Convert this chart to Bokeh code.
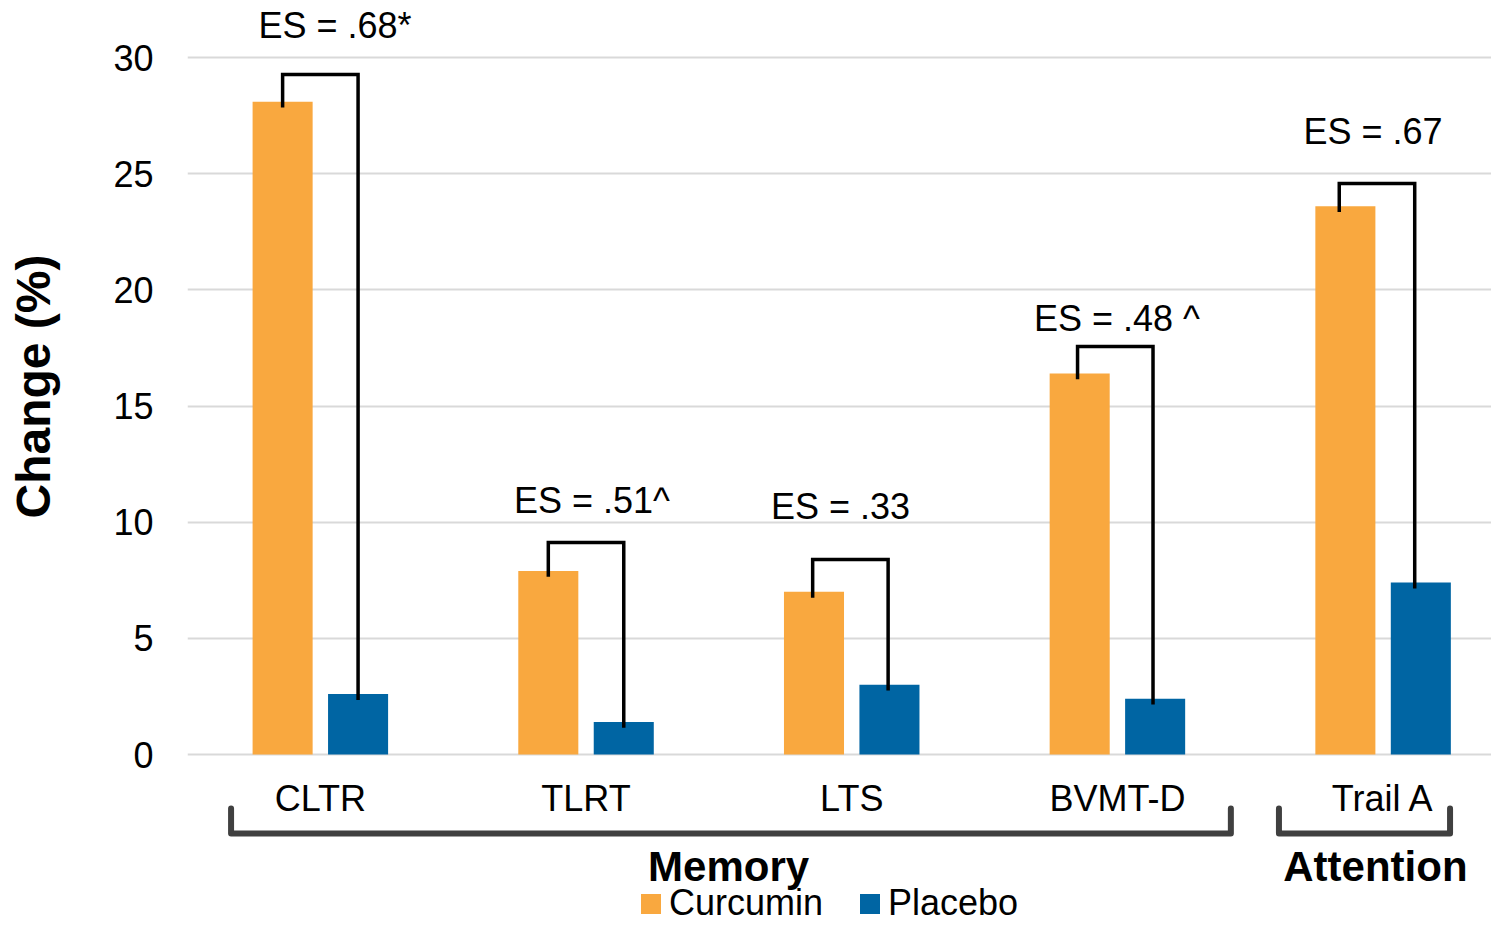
import math
from bokeh.plotting import figure
from bokeh.models import Range1d, FixedTicker, ColumnDataSource, Label
from bokeh.core.properties import value
from bokeh.embed import file_html
from bokeh.resources import INLINE

# ---------------- data ----------------
categories = ["CLTR", "TLRT", "LTS", "BVMT-D", "Trail A"]
curcumin = [28.1, 7.9, 7.0, 16.4, 23.6]
placebo = [2.6, 1.4, 3.0, 2.4, 7.4]
es_labels = ["ES = .68*", "ES = .51^", "ES = .33", "ES = .48 ^", "ES = .67"]
groups = ["Memory", "Attention"]
group_first = [0, 4]
group_last = [3, 4]
y_ticks = [0, 5, 10, 15, 20, 25, 30]

# ---------------- layout constants ----------------
bracket_top = [29.27, 9.13, 8.39, 17.56, 24.58]
bracket_dx = [0.0, 0.0, -0.005, -0.008, -0.023]
es_label_y = [31.38, 10.95, 10.67, 18.77, 26.82]
es_label_dx = [0.055, 0.022, -0.042, -0.002, -0.038]
group_pad_left = [0.336, 0.392]
group_pad_right = [0.427, 0.252]
group_label_dx = [-0.009, 0.041]

ORANGE = "#F9A83F"
BLUE = "#0065A3"
FONT = "Liberation Sans"
OFF = 0.142
BAR_W = 0.226

n = len(categories)
xc = [i + 0.5 for i in range(n)]

p = figure(width=1491, height=924, output_backend="svg", toolbar_location=None,
           x_range=Range1d(0, 4.908), y_range=Range1d(-7.317, 32.454),
           x_axis_location=None, min_border=0, min_border_left=187,
           min_border_right=0, min_border_top=0, min_border_bottom=0)
p.outline_line_color = None
p.background_fill_color = "white"
p.border_fill_color = "white"
p.xgrid.visible = False

yax = p.yaxis[0]
yax.ticker = FixedTicker(ticks=y_ticks)
yax.axis_line_color = None
yax.major_tick_line_color = None
yax.minor_tick_line_color = None
yax.major_label_text_font = FONT
yax.major_label_text_font_size = "36px"
yax.major_label_text_color = "black"
yax.major_label_standoff = 28

p.ygrid.ticker = FixedTicker(ticks=y_ticks)
p.ygrid.grid_line_color = "#D9D9D9"
p.ygrid.grid_line_width = 2

# y axis title in the left panel, centred on the 0-30 value area
ytitle = Label(x=-24, y=538, x_units="screen", y_units="screen",
               text="Change (%)", angle=math.pi / 2,
               text_font=FONT, text_font_size="48px", text_font_style="bold",
               text_align="center", text_baseline="middle", text_color="black")
p.add_layout(ytitle, "left")

src = ColumnDataSource(dict(
    xcur=[x - OFF for x in xc], xpla=[x + OFF for x in xc],
    cur=curcumin, pla=placebo))

p.vbar(x="xcur", top="cur", bottom=0, width=BAR_W, source=src,
       fill_color=ORANGE, line_color=None, legend_label="Curcumin")
p.vbar(x="xpla", top="pla", bottom=0, width=BAR_W, source=src,
       fill_color=BLUE, line_color=None, legend_label="Placebo")

# ES brackets
bxs, bys = [], []
for i in range(n):
    a = xc[i] - OFF + bracket_dx[i]
    b = xc[i] + OFF + bracket_dx[i]
    bxs.append([a, a, b, b])
    bys.append([curcumin[i] - 0.25, bracket_top[i], bracket_top[i], placebo[i] - 0.25])
p.multi_line(xs=bxs, ys=bys, line_color="black", line_width=3.5, line_join="miter")

p.text(x=[xc[i] + es_label_dx[i] for i in range(n)], y=es_label_y, text=es_labels,
       text_font=value(FONT), text_font_size="36px", text_align="center",
       text_baseline="middle", text_color="black")

# category labels
p.text(x=xc, y=[-1.89] * n, text=categories, text_font=value(FONT),
       text_font_size="36px", text_align="center", text_baseline="middle",
       text_color="black")

# group brackets
gxs, gys, gx_mid = [], [], []
for g in range(len(groups)):
    x0 = xc[group_first[g]] - group_pad_left[g]
    x1 = xc[group_last[g]] + group_pad_right[g]
    gxs.append([x0, x0, x1, x1])
    gys.append([-2.32, -3.40, -3.40, -2.32])
    gx_mid.append((x0 + x1) / 2 + group_label_dx[g])
p.multi_line(xs=gxs, ys=gys, line_color="#404040", line_width=6,
             line_join="round", line_cap="round")
p.text(x=gx_mid, y=[-4.82] * len(groups), text=groups, text_font=value(FONT),
       text_font_size="42px", text_font_style="bold", text_align="center",
       text_baseline="middle", text_color="black")

# legend
lg = p.legend[0]
lg.orientation = "horizontal"
lg.location = (451, 0)
lg.label_text_font = FONT
lg.label_text_font_size = "36px"
lg.label_text_color = "black"
lg.glyph_width = 25
lg.glyph_height = 25
lg.label_standoff = 6
lg.spacing = 34
lg.padding = 0
lg.margin = 0
lg.border_line_color = None
lg.background_fill_alpha = 0

open("out.html", "w").write(file_html(p, INLINE))
